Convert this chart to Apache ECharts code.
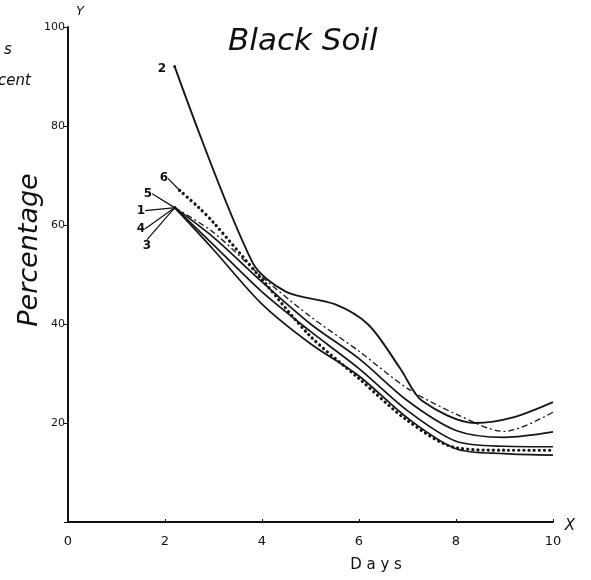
<!DOCTYPE html>
<html><head><meta charset="utf-8">
<script src="https://cdn.jsdelivr.net/npm/echarts@6/dist/echarts.min.js"></script>
<style>html,body{margin:0;background:#fff}#c{width:591px;height:580px}</style>
</head><body><div id="c"></div>
<script>
// Days (x) and percentage (y)
const xTickValues = [0, 2, 4, 6, 8, 10];
const yTickValues = [20, 40, 60, 80, 100];
const curveNames = ['1', '2', '3', '4', '5', '6'];
const curve1 = [[2.2,63.5],[3,56],[4,46.5],[5,38.5],[6,31],[7,22.5],[8,16.3],[9,15.3],[10,15.2]];
const curve2 = [[2.2,92],[3.8,52.5],[4.5,46.5],[5.5,44],[6.2,39.8],[6.85,31],[7.3,24.5],[8.4,20],[9.2,21.2],[10,24.2]];
const curve3 = [[2.2,63.5],[3,55],[4,44],[5,36],[6,29.5],[7,21],[8,14.8],[9,13.8],[10,13.5]];
const curve4 = [[2.2,63.5],[3,58.5],[4,49.5],[5,41.5],[6,34.5],[7,27],[8,21.8],[9,18.3],[10,22.2]];
const curve5 = [[2.2,63.5],[3,57.5],[4,48.5],[5,40],[6,33],[7,24.5],[8,18.5],[9,17.1],[10,18.2]];
const curve6 = [[2.3,67],[2.7,63.5],[3,60.5],[4,49],[5,37.5],[6,29],[7,20.5],[8,15],[9,14.5],[10,14.5]];

const curves = [curve1, curve2, curve3, curve4, curve5, curve6];
const styles = [
  {type:'solid', width:1.7},
  {type:'solid', width:1.9},
  {type:'solid', width:1.7},
  {type:[6,3,2,3], width:1.3},
  {type:'solid', width:1.7},
  {type:[0.1,5], width:3.2, cap:'round'}
];
const labelShift = [[-24,3],[-3,2],[-18,38],[-24,21],[-17,-14],[-6,-12]];

const chart = echarts.init(document.getElementById('c'));
const font = 'DejaVu Sans';
chart.setOption({
  backgroundColor:'#fff',
  animation:false,
  grid:{left:68, right:38, top:27, bottom:58},
  xAxis:{type:'value', min:0, max:10, interval:2,
    axisLine:{lineStyle:{color:'#111', width:2}},
    axisTick:{show:true, length:3, inside:true, lineStyle:{color:'#111'}},
    splitLine:{show:false},
    axisLabel:{color:'#111', fontFamily:font, fontSize:13, margin:13}},
  yAxis:{type:'value', min:0, max:100, interval:20,
    axisLine:{show:true, lineStyle:{color:'#111', width:2}},
    axisTick:{show:true, length:4, lineStyle:{color:'#111'}},
    splitLine:{show:false},
    axisLabel:{color:'#111', fontFamily:font, fontSize:11, margin:3,
      formatter:v => v === 0 ? '' : String(v)}},
  graphic:[
    {type:'text', left:228, top:26, style:{text:'Black Soil', font:'italic 31px "DejaVu Sans"', fill:'#111'}},
    {type:'text', x:30, y:250, rotation:Math.PI/2, style:{text:'Percentage', font:'italic 27px "DejaVu Sans"', fill:'#111', align:'center', verticalAlign:'middle'}},
    {type:'text', x:376, y:565, style:{text:'D a y s', font:'15px "DejaVu Sans"', fill:'#111', align:'center', verticalAlign:'middle'}},
    {type:'text', x:80, y:12, style:{text:'Y', font:'italic 13px "DejaVu Sans"', fill:'#111', align:'center', verticalAlign:'middle'}},
    {type:'text', x:570, y:526, style:{text:'X', font:'italic 15px "DejaVu Sans"', fill:'#111', align:'center', verticalAlign:'middle'}},
    {type:'text', x:4, y:50, style:{text:'s', font:'italic 15px "DejaVu Sans"', fill:'#111', verticalAlign:'middle'}},
    {type:'text', x:-2, y:81, style:{text:'cent', font:'italic 15px "DejaVu Sans"', fill:'#111', verticalAlign:'middle'}}
  ],
  series: curves.map((c, i) => ({
    name: curveNames[i],
    type:'line',
    smooth:0.3,
    showSymbol:true,
    symbol:'circle',
    symbolSize:(v, p) => p.dataIndex === 0 ? 3 : 0,
    itemStyle:{color:'#161616'},
    lineStyle:Object.assign({color:'#161616'}, styles[i]),
    data: c.map((p, j) => j === 0 ? {value:p, label:{show:true, formatter:curveNames[i], position:'left', distance:4, color:'#111', fontFamily:font, fontSize:12, fontWeight:'bold'}} : p),
    labelLayout: params => params.dataIndex === 0 ? {dx: labelShift[i][0], dy: labelShift[i][1]} : null,
    labelLine:{show: i !== 1, lineStyle:{color:'#111', width:1.2}}
  }))
});
</script></body></html>
